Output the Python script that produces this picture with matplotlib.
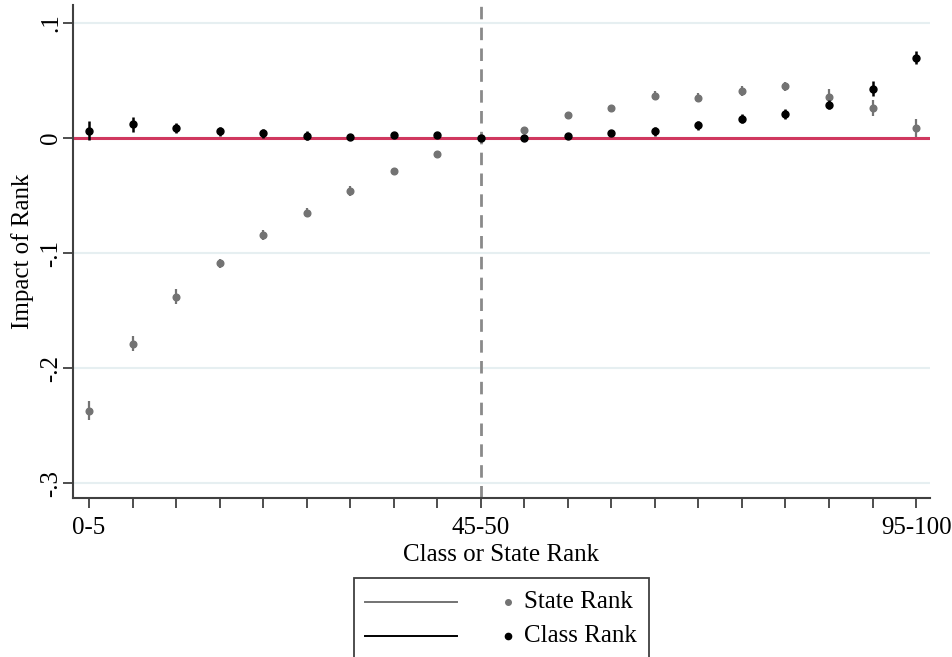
import matplotlib

matplotlib.use("Agg")
import matplotlib.pyplot as plt
from matplotlib.lines import Line2D
from matplotlib.patches import Rectangle
import numpy as np

plt.rcParams["font.family"] = ["Liberation Serif", "DejaVu Serif"]

# rank bins (20 bins of 5 percentiles)
bins = ["0-5", "5-10", "10-15", "15-20", "20-25", "25-30", "30-35", "35-40",
        "40-45", "45-50", "50-55", "55-60", "60-65", "65-70", "70-75", "75-80",
        "80-85", "85-90", "90-95", "95-100"]
shown_labels = {"0-5", "45-50", "95-100"}

state_coef = [-0.237, -0.179, -0.138, -0.109, -0.084, -0.065, -0.046, -0.029,
              -0.014, 0.0, 0.007, 0.020, 0.026, 0.037, 0.035, 0.041,
              0.045, 0.036, 0.026, 0.009]
state_se = [0.008, 0.0065, 0.0065, 0.004, 0.0043, 0.004, 0.004, 0.002,
            0.002, 0.0, 0.002, 0.002, 0.002, 0.0043, 0.004, 0.004,
            0.004, 0.0068, 0.0068, 0.008]

class_coef = [0.0064, 0.012, 0.0084, 0.006, 0.004, 0.002, 0.0012, 0.0023,
              0.0023, 0.0, 0.0003, 0.002, 0.004, 0.006, 0.011, 0.017,
              0.021, 0.029, 0.043, 0.070]
class_se = [0.008, 0.0065, 0.0043, 0.004, 0.004, 0.004, 0.002, 0.002,
            0.002, 0.0, 0.002, 0.002, 0.002, 0.004, 0.004, 0.004,
            0.004, 0.004, 0.0067, 0.006]

yticks = [0.1, 0.0, -0.1, -0.2, -0.3]
ytick_labels = [".1", "0", "-.1", "-.2", "-.3"]

gray = "#737373"
black = "#000000"
fs = 18

fig = plt.figure(figsize=(9.53, 6.57), dpi=100)
ax = fig.add_axes([73 / 953, 1 - 498 / 657, (930 - 73) / 953, (498 - 5) / 657])

x = np.arange(len(bins))

for yt in yticks:
    ax.axhline(yt, color="#e6eff1", lw=1.5, zorder=0)
ax.axhline(0, color="#d0385f", lw=2.2, zorder=1)
ax.axvline(9, color="#8a8a8a", lw=2, dashes=(4.5, 3), zorder=1)

ax.errorbar(x, state_coef, yerr=state_se, fmt="o", color=gray, ms=4.8,
            elinewidth=1.6, capsize=0, zorder=3)
ax.errorbar(x, class_coef, yerr=class_se, fmt="o", color=black, ms=5,
            elinewidth=1.8, capsize=0, zorder=4)

ax.set_xlim(-0.37, 19.32)
ax.set_ylim(-0.313, 0.1157)

ax.set_xticks(x)
ax.set_xticklabels([b if b in shown_labels else "" for b in bins], fontsize=fs)
ax.set_yticks(yticks)
ax.set_yticklabels(ytick_labels, fontsize=fs, rotation=90, va="center")
ax.tick_params(axis="both", direction="out", length=7, width=1.3, color="#404040")
ax.tick_params(axis="x", pad=7)
ax.tick_params(axis="y", pad=1)

for s in ["top", "right"]:
    ax.spines[s].set_visible(False)
for s in ["left", "bottom"]:
    ax.spines[s].set_color("#404040")
    ax.spines[s].set_linewidth(1.5)

ax.set_xlabel("Class or State Rank", fontsize=fs, labelpad=3)
ax.set_ylabel("Impact of Rank", fontsize=fs, labelpad=4)

# legend box drawn in figure pixels (Stata-style: CI line key + marker key)
W, H = 953, 657
fig.add_artist(Rectangle((354 / W, 1 - 662 / H), (649 - 354) / W, (662 - 578) / H,
                         transform=fig.transFigure, fill=False,
                         edgecolor="#404040", lw=1.3))
for row_y, col, lab, ms in [(602, gray, "State Rank", 4), (636, black, "Class Rank", 4.5)]:
    fy = 1 - row_y / H
    fig.add_artist(Line2D([365 / W, 457 / W], [fy, fy], transform=fig.transFigure,
                          color=col, lw=1.4))
    fig.add_artist(Line2D([508 / W], [fy], transform=fig.transFigure,
                          marker="o", ms=ms, color=col, lw=0))
    fig.text(524 / W, fy, lab, fontsize=fs, va="center", ha="left")

fig.savefig("out.png", dpi=100)
